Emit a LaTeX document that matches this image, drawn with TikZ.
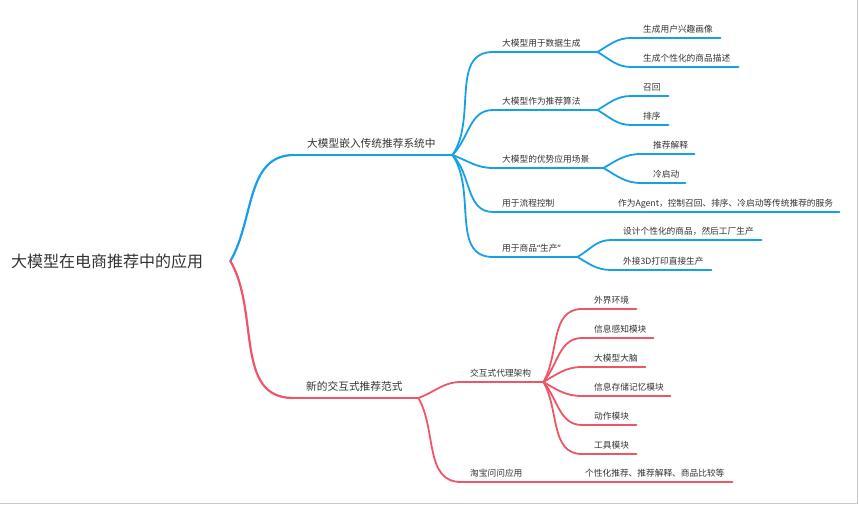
\documentclass[tikz,border=0pt]{standalone}
\usepackage{fontspec}
\setmainfont{Noto Sans CJK SC}
\newfontfamily\quotefont{Noto Sans}
\definecolor{mindblue}{RGB}{22,160,230}
\definecolor{mindred}{RGB}{238,86,104}
\definecolor{inkgray}{RGB}{51,51,51}
\definecolor{framegray}{RGB}{200,200,200}
\tikzset{
  rootnode/.style={anchor=west, inner sep=0pt, font=\fontsize{16}{18}\selectfont, text=inkgray},
  topic/.style={anchor=south west, inner xsep=0pt, inner ysep=4.9pt, text height=8.5pt, text depth=2pt,
                align=left, font=\fontsize{10.7}{12}\selectfont, text=inkgray,
                execute at begin node={\noindent\hspace*{13pt}}},
  subtopic/.style={anchor=south west, inner xsep=0pt, inner ysep=4.2pt, text height=7pt, text depth=1.5pt,
                align=left, font=\fontsize{8.7}{10}\selectfont, text=inkgray,
                execute at begin node={\noindent\hspace*{#1}}},
  subtopic/.default=12pt,
  bluebranch/.style={mindblue, line width=1.8pt, line cap=round},
  redbranch/.style={mindred, line width=1.8pt, line cap=round},
}
\begin{document}
\begin{tikzpicture}[x=1pt,y=-1pt]
  \useasboundingbox (0,0) rectangle (859,505);
  \draw[framegray, line width=1.5pt] (857.5,0) -- (857.5,503.5) -- (0,503.5);

  \node[rootnode] (root) at (11,261) {大模型在电商推荐中的应用};

  % blue: embedding into classic recommenders
  \node[topic, text width=158pt] (b) at (294,155) {大模型嵌入传统推荐系统中};
  \node[subtopic=9pt, text width=104pt] (b1) at (493,52) {大模型用于数据生成};
  \node[subtopic=9pt, text width=104pt] (b2) at (493,110) {大模型作为推荐算法};
  \node[subtopic=9pt, text width=110pt] (b3) at (493,168) {大模型的优势应用场景};
  \node[subtopic=9pt, text width=107pt] (b4) at (493,212) {用于流程控制};
  \node[subtopic=9pt, text width=84pt] (b5) at (493,257) {用于商品{\quotefont “}生产{\quotefont ”}};
  \node[subtopic, text width=89pt] (b11) at (631,38) {生成用户兴趣画像};
  \node[subtopic, text width=107pt] (b12) at (631,67) {生成个性化的商品描述};
  \node[subtopic, text width=37pt] (b21) at (631,96) {召回};
  \node[subtopic, text width=37pt] (b22) at (631,125) {排序};
  \node[subtopic, text width=53pt] (b31) at (641,154) {推荐解释};
  \node[subtopic, text width=44pt] (b32) at (641,183) {冷启动};
  \node[subtopic=18pt, text width=239pt] (b41) at (600,212) {作为Agent，控制召回、排序、冷启动等传统推荐的服务};
  \node[subtopic, text width=150pt] (b51) at (611,240) {设计个性化的商品，然后工厂生产};
  \node[subtopic, text width=100pt] (b52) at (611,270) {外接3D打印直接生产};

  % red: interactive paradigm
  \node[topic, text width=125pt] (r) at (293,398) {新的交互式推荐范式};
  \node[subtopic=9pt, text width=82pt] (r1) at (461,382) {交互式代理架构};
  \node[subtopic=9pt, text width=114pt] (r2) at (461,482) {淘宝问问应用};
  \node[subtopic, text width=54pt] (r11) at (582,309) {外界环境};
  \node[subtopic, text width=71pt] (r12) at (582,338) {信息感知模块};
  \node[subtopic, text width=63pt] (r13) at (582,367) {大模型大脑};
  \node[subtopic, text width=88pt] (r14) at (582,396) {信息存储记忆模块};
  \node[subtopic, text width=54pt] (r15) at (582,425) {动作模块};
  \node[subtopic, text width=54pt] (r16) at (582,454) {工具模块};
  \node[subtopic=10pt, text width=157pt] (r21) at (575,482) {个性化推荐、推荐解释、商品比较等};

  % underlines
  \draw[bluebranch, line width=2.2pt] (b.south west) -- (b.south east);
  \draw[redbranch, line width=2.2pt] (r.south west) -- (r.south east);
  \foreach \n in {b1,b2,b3,b4,b5,b11,b12,b21,b22,b31,b32,b41,b51,b52}
    \draw[bluebranch] (\n.south west) -- (\n.south east);
  \foreach \n in {r1,r2,r11,r12,r13,r14,r15,r16,r21}
    \draw[redbranch] (\n.south west) -- (\n.south east);

  % connectors
  \draw[bluebranch, line width=2.2pt] ([xshift=27pt]root.east) to[out=60,in=180] (b.south west);
  \draw[redbranch, line width=2.2pt] ([xshift=27pt]root.east) to[out=-60,in=180] (r.south west);
  \foreach \c/\a in {b1/55,b2/45,b3/-20,b4/-45,b5/-55}
    \draw[bluebranch] (b.south east) to[out=\a,in=180] (\c.south west);
  \foreach \p/\c/\a in {b1/b11/30,b1/b12/-30,b2/b21/30,b2/b22/-30,b3/b31/30,b3/b32/-30,b5/b51/30,b5/b52/-30}
    \draw[bluebranch] (\p.south east) to[out=\a,in=180] (\c.south west);
  \draw[bluebranch] (b4.south east) -- (b41.south west);
  \draw[redbranch] (r.south east) to[out=20,in=180] (r1.south west);
  \draw[redbranch] (r.south east) to[out=-60,in=180] (r2.south west);
  \foreach \c/\a in {r11/60,r12/50,r13/30,r14/-30,r15/-50,r16/-60}
    \draw[redbranch] (r1.south east) to[out=\a,in=180] (\c.south west);
  \draw[redbranch] (r2.south east) -- (r21.south west);
\end{tikzpicture}
\end{document}
